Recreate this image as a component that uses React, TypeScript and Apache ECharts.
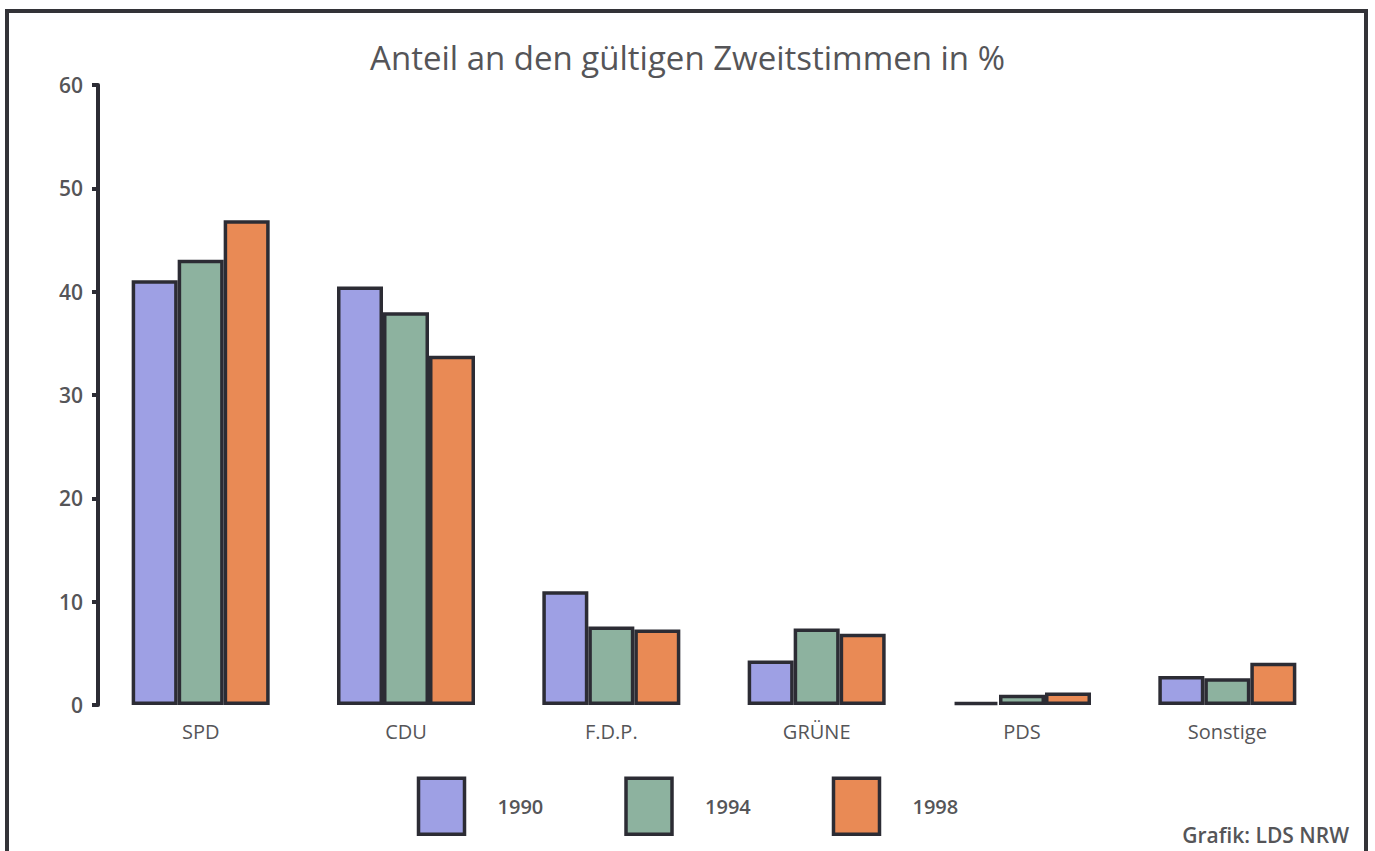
import React, { useEffect, useRef } from "react";
import * as echarts from "echarts";

const categories = ["SPD", "CDU", "F.D.P.", "GRÜNE", "PDS", "Sonstige"];
const years = ["1990", "1994", "1998"];
const values1990 = [41.1, 40.5, 11.0, 4.3, 0.3, 2.8];
const values1994 = [43.1, 38.0, 7.6, 7.4, 1.0, 2.6];
const values1998 = [46.9, 33.8, 7.3, 6.9, 1.2, 4.1];
const yTicks = [0, 10, 20, 30, 40, 50, 60];

const colors = ["#9ea0e4", "#8db29f", "#e98a55"];
const textColor = "#555558";
const lineColor = "#2c2c34";
const font = "'Open Sans', 'Noto Sans', sans-serif";

export default function App() {
  const ref = useRef<HTMLDivElement>(null);
  useEffect(() => {
    if (!ref.current) return;
    const chart = echarts.init(ref.current, null, { renderer: "svg" });
    const seriesData = [values1990, values1994, values1998];
    chart.setOption({
      animation: false,
      backgroundColor: "#ffffff",
      title: {
        text: "Anteil an den gültigen Zweitstimmen in %",
        left: "center",
        top: 36,
        textStyle: { fontFamily: font, fontSize: 33, fontWeight: 500, color: textColor },
      },
      grid: { left: 98, right: 45, top: 85, bottom: 146, containLabel: false },
      legend: {
        bottom: 10,
        left: "center",
        data: years,
        icon: "rect",
        itemWidth: 46,
        itemHeight: 56,
        itemGap: 81,
        textStyle: { fontFamily: font, fontSize: 20, fontWeight: 600, color: textColor, padding: [0, 0, 0, 28] },
        itemStyle: { borderColor: lineColor, borderWidth: 3.5 },
      },
      xAxis: {
        type: "category",
        data: categories,
        axisLine: { show: false },
        axisTick: { show: false },
        axisLabel: { fontFamily: font, fontSize: 20, fontWeight: 500, color: textColor, margin: 16 },
      },
      yAxis: {
        type: "value",
        min: yTicks[0],
        max: yTicks[yTicks.length - 1],
        interval: 10,
        axisLine: { show: true, lineStyle: { color: lineColor, width: 4 } },
        axisTick: { show: true, length: 6, lineStyle: { color: lineColor, width: 4 } },
        splitLine: { show: false },
        axisLabel: { fontFamily: font, fontSize: 21, fontWeight: 600, color: textColor, margin: 15 },
      },
      series: years.map((y, i) => ({
        name: y,
        type: "bar",
        data: seriesData[i],
        barWidth: 46,
        barGap: "0%",
        itemStyle: { color: colors[i], borderColor: lineColor, borderWidth: 3.5 },
      })),
      graphic: [
        {
          type: "rect",
          shape: { x: 7, y: 11, width: 1359, height: 900 },
          style: { fill: "none", stroke: "#333338", lineWidth: 4 },
          silent: true,
        },
        {
          type: "text",
          right: 26,
          bottom: 6,
          style: {
            text: "Grafik: LDS NRW",
            fontFamily: font,
            fontSize: 21,
            fontWeight: 600,
            fill: textColor,
          },
        },
      ],
    });
    return () => chart.dispose();
  }, []);
  return (
    <div
      ref={ref}
      style={{ position: "fixed", left: 0, top: 0, width: 1375, height: 851, background: "#fff" }}
    />
  );
}
